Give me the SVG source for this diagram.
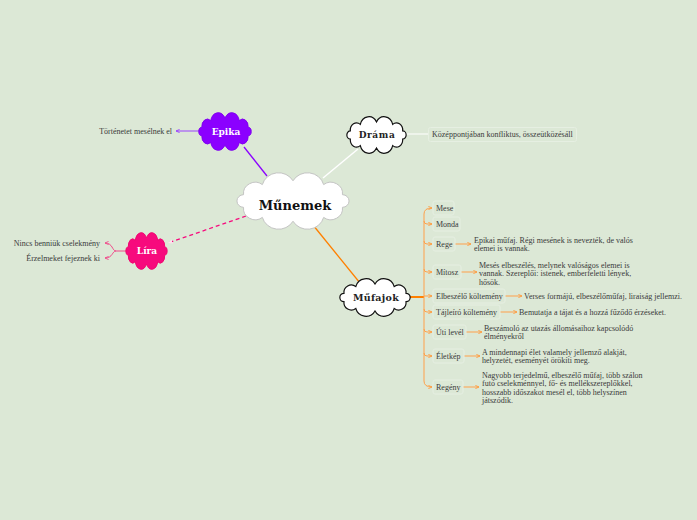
<svg xmlns="http://www.w3.org/2000/svg" xmlns:xlink="http://www.w3.org/1999/xlink" width="697" height="520" viewBox="0 0 697 520">
<style>
.t{font-family:"Liberation Serif","Times New Roman",serif;font-size:8px;fill:#3a3a3a}
.h{font-family:"DejaVu Serif",serif;font-weight:bold;text-anchor:middle}
.box{fill:none;stroke:#e6efe2;stroke-width:1}
.o{fill:none;stroke:#ffa04a;stroke-width:1}
</style>
<defs>
<path id="cloud" vector-effect="non-scaling-stroke" d="M -39.9,-5.3 A 9.5 9.5 0 0 1 -24.7,-13.8 A 13.5 13.5 0 0 1 0,-17 A 13.5 13.5 0 0 1 24.7,-13.8 A 9.5 9.5 0 0 1 39.9,-5.3 A 5.3 5.3 0 0 1 39.9,5.3 A 9.5 9.5 0 0 1 24.7,13.8 A 13.5 13.5 0 0 1 0,17 A 13.5 13.5 0 0 1 -24.7,13.8 A 9.5 9.5 0 0 1 -39.9,5.3 A 5.3 5.3 0 0 1 -39.9,-5.3 Z"/>
<marker id="aO" viewBox="0 0 6 6" refX="5.5" refY="3" markerWidth="4" markerHeight="4" orient="auto" markerUnits="userSpaceOnUse"><path d="M0,0.5 L5.5,3 L0,5.5" fill="none" stroke="#ff9a3c" stroke-width="1.3"/></marker>
<marker id="aP" viewBox="0 0 6 6" refX="5.5" refY="3" markerWidth="4" markerHeight="4" orient="auto" markerUnits="userSpaceOnUse"><path d="M0,0.5 L5.5,3 L0,5.5" fill="none" stroke="#9a40ff" stroke-width="1.3"/></marker>
<marker id="aK" viewBox="0 0 6 6" refX="5.5" refY="3" markerWidth="4" markerHeight="4" orient="auto" markerUnits="userSpaceOnUse"><path d="M0,0.5 L5.5,3 L0,5.5" fill="none" stroke="#f04a8a" stroke-width="1.3"/></marker>
<marker id="aL" viewBox="0 0 6 6" refX="5.5" refY="3" markerWidth="5" markerHeight="5" orient="auto" markerUnits="userSpaceOnUse"><path d="M0,0.5 L5.5,3 L0,5.5 z" fill="#ffe0ee"/></marker>
</defs>
<rect width="697" height="520" fill="#dce8d6"/>

<g id="connectors">
<line x1="267" y1="176" x2="244" y2="147" stroke="#8b00ff" stroke-width="1.3"/>
<line x1="323" y1="178" x2="358" y2="149" stroke="#ffffff" stroke-width="1.5"/>
<line x1="246" y1="216" x2="168" y2="243" stroke="#f70a7d" stroke-width="1.3" stroke-dasharray="4,3" marker-end="url(#aL)"/>
<line x1="313" y1="225" x2="360" y2="283" stroke="#ff8000" stroke-width="1.3"/>
<line x1="200" y1="131" x2="176" y2="131" stroke="#9a40ff" stroke-width="1" marker-end="url(#aP)"/>
<line x1="406" y1="134" x2="429" y2="134" stroke="#f4f8f2" stroke-width="1.5"/>
<path d="M127,251 L116,251" fill="none" stroke="#f04a8a" stroke-width="1"/>
<path d="M116,251 C112,251 113,243 105,243" fill="none" stroke="#f04a8a" stroke-width="1" marker-end="url(#aK)"/>
<path d="M116,251 C112,251 113,258 105,258" fill="none" stroke="#f04a8a" stroke-width="1" marker-end="url(#aK)"/>
<line x1="409" y1="297" x2="424" y2="297" stroke="#ff8000" stroke-width="2"/>
<path class="o" d="M424,214 L424,381"/>
<path class="o" d="M424,214 Q424,208 432,208" marker-end="url(#aO)"/>
<path class="o" d="M424,381 Q424,387 432,387" marker-end="url(#aO)"/>
<path class="o" d="M424,221 Q424,224 427,224 L432,224" marker-end="url(#aO)"/>
<path class="o" d="M424,241 Q424,244 427,244 L432,244" marker-end="url(#aO)"/>
<path class="o" d="M424,269 Q424,272 427,272 L432,272" marker-end="url(#aO)"/>
<path class="o" d="M424,296 L432,296" marker-end="url(#aO)"/>
<path class="o" d="M424,309 Q424,312 427,312 L432,312" marker-end="url(#aO)"/>
<path class="o" d="M424,329 Q424,332 427,332 L432,332" marker-end="url(#aO)"/>
<path class="o" d="M424,353 Q424,356 427,356 L432,356" marker-end="url(#aO)"/>
<line class="o" x1="455" y1="244" x2="471" y2="244" marker-end="url(#aO)"/>
<line class="o" x1="461" y1="272" x2="477" y2="272" marker-end="url(#aO)"/>
<line class="o" x1="505" y1="296" x2="522" y2="296" marker-end="url(#aO)"/>
<line class="o" x1="500" y1="312" x2="517" y2="312" marker-end="url(#aO)"/>
<line class="o" x1="466" y1="332" x2="482" y2="332" marker-end="url(#aO)"/>
<line class="o" x1="464" y1="356" x2="480" y2="356" marker-end="url(#aO)"/>
<line class="o" x1="463" y1="387" x2="479" y2="387" marker-end="url(#aO)"/>
</g>

<g id="munemek">
<use xlink:href="#cloud" href="#cloud" transform="translate(293,201) scale(1.24,1.19)" fill="#ffffff" stroke="#c4c4c4" stroke-width="1"/>
<text class="h" x="295" y="209.5" font-size="13" fill="#111">Műnemek</text>
</g>

<g id="epika">
<use xlink:href="#cloud" href="#cloud" transform="translate(225,131.5) scale(0.58,0.79)" fill="#8b00ff" stroke="#8000f0" stroke-width="1"/>
<text class="h" x="226" y="135" font-size="9" fill="#ffffff">Epika</text>
</g>
<g id="epika-1">
<text class="t" x="172" y="133.8" text-anchor="end">Történetet mesélnek el</text>
</g>

<g id="drama">
<use xlink:href="#cloud" href="#cloud" transform="translate(376.5,135) scale(0.656,0.77)" fill="#ffffff" stroke="#111111" stroke-width="1.2"/>
<text class="h" x="377" y="138.2" font-size="9" fill="#222" letter-spacing="0.6">Dráma</text>
</g>
<g id="drama-1">
<rect class="box" x="428.5" y="127.5" width="148" height="14" rx="2"/>
<text class="t" x="432" y="136.8">Középpontjában konfliktus, összeütközésáll</text>
</g>

<g id="lira">
<use xlink:href="#cloud" href="#cloud" transform="translate(146.5,251) scale(0.456,0.77)" fill="#f70a7d" stroke="#f0066f" stroke-width="1"/>
<text class="h" x="147" y="254.3" font-size="9" fill="#ffffff">Líra</text>
</g>
<g id="lira-1"><text class="t" x="100" y="245.8" text-anchor="end">Nincs benniük cselekmény</text></g>
<g id="lira-2"><text class="t" x="100" y="260.8" text-anchor="end">Érzelmeket fejeznek ki</text></g>

<g id="mufajok">
<use xlink:href="#cloud" href="#cloud" transform="translate(375,297.5) scale(0.778,0.79)" fill="#ffffff" stroke="#111111" stroke-width="1.2"/>
<text class="h" x="376" y="300.8" font-size="9.5" fill="#222" letter-spacing="0.3">Műfajok</text>
</g>

<g id="mese"><rect class="box" x="433" y="201" width="21" height="14" rx="2"/><text class="t" x="436" y="210.8">Mese</text></g>
<g id="monda"><rect class="box" x="433" y="217" width="27" height="14" rx="2"/><text class="t" x="436" y="226.8">Monda</text></g>
<g id="rege"><rect class="box" x="433" y="237" width="22" height="14" rx="2"/><text class="t" x="436" y="246.8">Rege</text></g>
<g id="rege-1"><text class="t" x="474" y="242.8">Epikai műfaj. Régi mesének is nevezték, de valós</text><text class="t" x="474" y="250.8">elemei is vannak.</text></g>
<g id="mitosz"><rect class="box" x="433" y="265" width="28" height="14" rx="2"/><text class="t" x="436" y="274.8">Mítosz</text></g>
<g id="mitosz-1"><text class="t" x="479" y="267.8">Mesés elbeszélés, melynek valóságos elemei  is</text><text class="t" x="479" y="276.2">vannak. Szereplői: istenek, emberfeletti lények,</text><text class="t" x="479" y="284.6">hősök.</text></g>
<g id="elbeszelo"><rect class="box" x="433" y="289" width="72" height="14" rx="2"/><text class="t" x="436" y="298.8">Elbeszélő költemény</text></g>
<g id="elbeszelo-1"><text class="t" x="524" y="298.8">Verses formájú, elbeszélőműfaj, liraiság jellemzi.</text></g>
<g id="tajleiro"><rect class="box" x="433" y="305" width="67" height="14" rx="2"/><text class="t" x="436" y="314.8">Tájleíró költemény</text></g>
<g id="tajleiro-1"><text class="t" x="519" y="314.8">Bemutatja a tájat és a hozzá fűződő  érzéseket.</text></g>
<g id="utilevel"><rect class="box" x="433" y="325" width="33" height="14" rx="2"/><text class="t" x="436" y="334.8">Úti levél</text></g>
<g id="utilevel-1"><text class="t" x="484" y="330.8">Beszámoló az utazás állomásaihoz kapcsolódó</text><text class="t" x="484" y="339.2">élményekről</text></g>
<g id="eletkep"><rect class="box" x="433" y="349" width="31" height="14" rx="2"/><text class="t" x="436" y="358.8">Életkép</text></g>
<g id="eletkep-1"><text class="t" x="482" y="354.8">A mindennapi élet valamely jellemző alakját,</text><text class="t" x="482" y="363.2">helyzetét, eseményét örökíti meg.</text></g>
<g id="regeny"><rect class="box" x="433" y="380" width="30" height="14" rx="2"/><text class="t" x="436" y="389.8">Regény</text></g>
<g id="regeny-1"><text class="t" x="482" y="377.8">Nagyobb terjedelmű, elbeszélő műfaj, több szálon</text><text class="t" x="482" y="386.2">futó cselekménnyel, fő- és mellékszereplőkkel,</text><text class="t" x="482" y="394.6">hosszabb időszakot mesél el, több helyszínen</text><text class="t" x="482" y="403">játszódik.</text></g>
</svg>
